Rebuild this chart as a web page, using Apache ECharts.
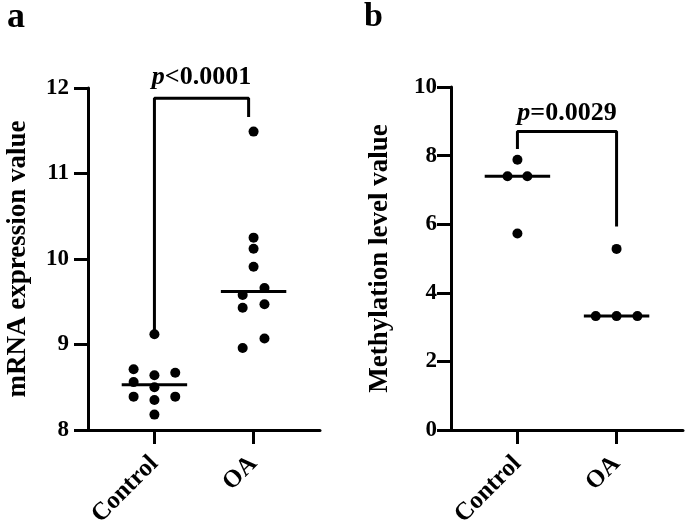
<!DOCTYPE html>
<html>
<head>
<meta charset="utf-8">
<script src="https://cdn.jsdelivr.net/npm/echarts@6/dist/echarts.min.js"></script>
<style>
  html, body { margin: 0; padding: 0; background: #fff; }
  #chart { width: 685px; height: 528px; }
</style>
</head>
<body>
<div id="chart"></div>
<script>
const categories = ['Control', 'OA']

// panel a: mRNA expression
const mrnaControl = [9.12, 8.71, 8.64, 8.67, 8.56, 8.5, 8.39, 8.35, 8.39, 8.18]
const mrnaControlJitter = [0, -0.21, 0, 0.21, -0.21, 0, -0.21, 0, 0.21, 0]
const mrnaOA = [11.49, 10.25, 10.12, 9.91, 9.66, 9.58, 9.43, 9.47, 9.07, 8.96]
const mrnaOAJitter = [0, 0, 0, 0, 0.11, -0.11, -0.11, 0.11, 0.11, -0.11]
const mrnaTicks = [8, 9, 10, 11, 12]
const bracketA = [9.12, 11.88, 11.66] // left leg bottom, top, right leg bottom
const bracketAX = [0, 0.95]
const pTextA = '{i|p}<0.0001'

// panel b: methylation level
const methControl = [7.88, 7.4, 7.4, 5.73]
const methControlJitter = [0, -0.1, 0.1, 0]
const methOA = [5.28, 3.32, 3.32, 3.32]
const methOAJitter = [0, -0.21, 0, 0.21]
const methTicks = [0, 2, 4, 6, 8, 10]
const bracketB = [8.19, 8.7, 5.93]
const bracketBX = [0, 1]
const pTextB = '{i|p}=0.0029'

const FONT = '"Liberation Serif", "Times New Roman", serif'
const HALF = 0.33

function median(arr) {
  const s = arr.slice().sort((a, b) => a - b)
  const m = Math.floor(s.length / 2)
  return s.length % 2 ? s[m] : (s[m - 1] + s[m]) / 2
}

function xAxisOf(gridIndex) {
  return {
    type: 'value',
    gridIndex,
    min: -0.67,
    max: 1.67,
    axisLine: { show: true, onZero: false, lineStyle: { color: '#000', width: 3 } },
    splitLine: { show: false },
    axisTick: { show: true, customValues: [0, 1], length: 14, lineStyle: { color: '#000', width: 3 } },
    axisLabel: {
      customValues: [0, 1],
      formatter: (v) => categories[Math.round(v)],
      rotate: 45,
      margin: 30,
      color: '#000',
      fontFamily: FONT,
      fontWeight: 'bold',
      fontSize: 25,
    },
  }
}

function yAxisOf(gridIndex, ticks, name, nameGap, margin) {
  return {
    type: 'value',
    gridIndex,
    min: ticks[0],
    max: ticks[ticks.length - 1],
    interval: ticks[1] - ticks[0],
    name,
    nameLocation: 'middle',
    nameGap,
    nameTextStyle: { color: '#000', fontFamily: FONT, fontWeight: 'bold', fontSize: 27 },
    axisLine: { show: true, onZero: false, lineStyle: { color: '#000', width: 3 } },
    splitLine: { show: false },
    axisTick: { show: true, length: 14, lineStyle: { color: '#000', width: 3 } },
    axisLabel: { margin, color: '#000', fontFamily: FONT, fontWeight: 'bold', fontSize: 23 },
  }
}

function panelSeries(idx, ctrl, ctrlJ, oa, oaJ, bracket, bx, pText, pDist) {
  const dots = (vals, jit, c) => vals.map((v, i) => [c + jit[i], v])
  const mc = median(ctrl)
  const mo = median(oa)
  const line = { color: '#000', width: 3 }
  return [
    {
      type: 'line', xAxisIndex: idx, yAxisIndex: idx, symbol: 'none', silent: true,
      lineStyle: line,
      data: [[bx[0], bracket[0]], [bx[0], bracket[1]], [bx[1], bracket[1]], [bx[1], bracket[2]]],
    },
    {
      type: 'line', xAxisIndex: idx, yAxisIndex: idx, symbol: 'none', lineStyle: line,
      data: [[0 - HALF, mc], [0 + HALF, mc]],
    },
    {
      type: 'line', xAxisIndex: idx, yAxisIndex: idx, symbol: 'none', lineStyle: line,
      data: [[1 - HALF, mo], [1 + HALF, mo]],
    },
    {
      type: 'scatter', xAxisIndex: idx, yAxisIndex: idx, symbolSize: 10,
      itemStyle: { color: '#000', opacity: 1 },
      data: dots(ctrl, ctrlJ, 0).concat(dots(oa, oaJ, 1)),
    },
    {
      type: 'scatter', xAxisIndex: idx, yAxisIndex: idx, symbolSize: 0,
      itemStyle: { color: '#000', opacity: 1 },
      data: [[(bx[0] + bx[1]) / 2, bracket[1]]],
      label: {
        show: true,
        position: 'top',
        distance: pDist,
        formatter: pText,
        color: '#000',
        fontFamily: FONT,
        fontWeight: 'bold',
        fontSize: 26,
        rich: {
          i: { fontStyle: 'italic', fontFamily: FONT, fontWeight: 'bold', fontSize: 26, color: '#000' },
        },
      },
    },
  ]
}

const chart = echarts.init(document.getElementById('chart'))
const option = {
  animation: false,
  grid: [
    { left: 88, top: 88, right: 365, bottom: 98, containLabel: false, outerBoundsMode: 'none' },
    { left: 451, top: 87, right: 2, bottom: 98, containLabel: false, outerBoundsMode: 'none' },
  ],
  xAxis: [xAxisOf(0), xAxisOf(1)],
  yAxis: [
    yAxisOf(0, mrnaTicks, 'mRNA expression value', 56, 19),
    yAxisOf(1, methTicks, 'Methylation level value', 57, 14),
  ],
  graphic: [
    { type: 'text', left: 7, top: 0, style: { text: 'a', font: 'bold 36px ' + FONT, fill: '#000' } },
    { type: 'text', left: 364, top: 0, style: { text: 'b', font: 'bold 34px ' + FONT, fill: '#000' } },
  ],
  series: [
    ...panelSeries(0, mrnaControl, mrnaControlJitter, mrnaOA, mrnaOAJitter, bracketA, bracketAX, pTextA, 8),
    ...panelSeries(1, methControl, methControlJitter, methOA, methOAJitter, bracketB, bracketBX, pTextB, 5),
  ],
}
chart.setOption(option)
</script>
</body>
</html>
